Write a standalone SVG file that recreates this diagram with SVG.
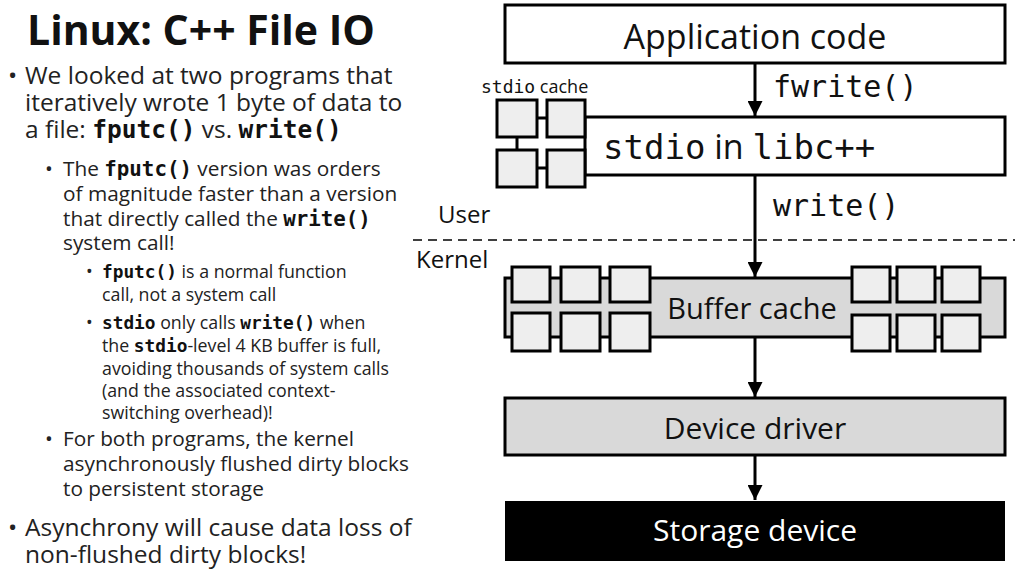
<svg xmlns="http://www.w3.org/2000/svg" width="1024" height="576" viewBox="0 0 1024 576">
<style>
.t{font-family:"Open Sans","Noto Sans",sans-serif;fill:#222}
.m{font-family:"DejaVu Sans Mono","Liberation Mono",monospace;fill:#111;font-weight:600}
.mn{font-family:"DejaVu Sans Mono","Liberation Mono",monospace;fill:#111}
.box{stroke:#000;stroke-width:3}
.sq{fill:#eee;stroke:#000;stroke-width:3}
.l1{font-size:24.5px}.l2{font-size:20.8px}.l3{font-size:17.8px}
</style>
<defs><marker id="ah" viewBox="0 0 10 10" refX="10" refY="5" markerWidth="5" markerHeight="5" orient="auto"><path d="M0,0L10,5L0,10z" fill="#000"/></marker></defs>
<rect width="1024" height="576" fill="#fff"/>
<text class="t" x="27" y="45" font-size="41" font-weight="bold" style="fill:#111">Linux: C++ File IO</text>
<g class="t l1"><text x="8" y="84">•</text><text x="25" y="84">We looked at two programs that</text><text x="25" y="111">iteratively wrote 1 byte of data to</text><text x="25" y="138">a file: <tspan class="m">fputc()</tspan> vs. <tspan class="m">write()</tspan></text>
<text x="8" y="536">•</text><text x="25" y="536">Asynchrony will cause data loss of</text><text x="25" y="563">non-flushed dirty blocks!</text></g>
<g class="t l2"><text x="45" y="176">•</text><text x="63" y="176">The <tspan class="m">fputc()</tspan> version was orders</text><text x="63" y="201">of magnitude faster than a version</text><text x="63" y="226">that directly called the <tspan class="m">write()</tspan></text><text x="63" y="250">system call!</text>
<text x="45" y="446">•</text><text x="63" y="446">For both programs, the kernel</text><text x="63" y="471">asynchronously flushed dirty blocks</text><text x="63" y="496">to persistent storage</text></g>
<g class="t l3"><text x="86" y="278">•</text><text x="102" y="278"><tspan class="m">fputc()</tspan> is a normal function</text><text x="102" y="301">call, not a system call</text>
<text x="86" y="329">•</text><text x="102" y="329"><tspan class="m">stdio</tspan> only calls <tspan class="m">write()</tspan> when</text><text x="102" y="352">the <tspan class="m">stdio</tspan>-level 4 KB buffer is full,</text><text x="102" y="375">avoiding thousands of system calls</text><text x="102" y="397">(and the associated context-</text><text x="102" y="419">switching overhead)!</text></g>

<g id="app"><rect class="box" x="505" y="5" width="500" height="58" fill="#fff"/><text class="t" x="755" y="49" font-size="34" text-anchor="middle" style="fill:#111">Application code</text></g>
<g id="stdio"><rect class="box" x="585" y="117" width="420" height="58" fill="#fff"/><text x="603" y="159" font-size="34"><tspan class="mn">stdio</tspan><tspan class="t" style="fill:#111"> in </tspan><tspan class="mn">libc++</tspan></text>
<text x="481" y="93" font-size="18"><tspan class="mn">stdio</tspan><tspan class="t" style="fill:#111"> cache</tspan></text>
<path d="M537,118H547M537,168H547M517,137V149" stroke="#000" stroke-width="3"/>
<rect class="sq" x="497" y="100" width="40" height="37"/><rect class="sq" x="547" y="100" width="38" height="37"/><rect class="sq" x="497" y="150" width="40" height="37"/><rect class="sq" x="547" y="150" width="38" height="37"/></g>
<g id="labels" class="t"><text x="438" y="223" font-size="24" style="fill:#111">User</text><text x="416" y="268" font-size="24" style="fill:#111">Kernel</text></g>
<line x1="413" y1="240" x2="1015" y2="240" stroke="#000" stroke-width="1.5" stroke-dasharray="9,6"/>
<g id="buffer"><rect class="box" x="505" y="278" width="500" height="59" fill="#d9d9d9"/>
<g id="bsq"><rect class="sq" x="512" y="267" width="38" height="35"/><rect class="sq" x="561" y="267" width="39" height="35"/><rect class="sq" x="610" y="267" width="40" height="35"/><rect class="sq" x="512" y="313" width="38" height="38"/><rect class="sq" x="561" y="313" width="39" height="38"/><rect class="sq" x="610" y="313" width="40" height="38"/>
<rect class="sq" x="852" y="267" width="38" height="35"/><rect class="sq" x="897" y="267" width="38" height="35"/><rect class="sq" x="942" y="267" width="38" height="35"/><rect class="sq" x="852" y="315" width="38" height="36"/><rect class="sq" x="897" y="315" width="38" height="36"/><rect class="sq" x="942" y="315" width="38" height="36"/></g>
<text class="t" x="752" y="319" font-size="29" text-anchor="middle" style="fill:#111">Buffer cache</text></g>
<g id="driver"><rect class="box" x="505" y="398" width="500" height="57" fill="#d9d9d9"/><text class="t" x="755" y="439" font-size="30" text-anchor="middle" style="fill:#111">Device driver</text></g>
<g id="storage"><rect x="505" y="501" width="500" height="60" fill="#000"/><text class="t" x="755" y="541" font-size="30" text-anchor="middle" style="fill:#fff">Storage device</text></g>
<g id="connectors" stroke="#000" stroke-width="3" marker-end="url(#ah)">
<line x1="755" y1="63" x2="755" y2="116"/><line x1="755" y1="175" x2="755" y2="277"/><line x1="755" y1="337" x2="755" y2="397"/><line x1="755" y1="455" x2="755" y2="500"/></g>
<g class="mn" font-size="30"><text x="773" y="97">fwrite()</text><text x="773" y="216">write()</text></g>
</svg>
